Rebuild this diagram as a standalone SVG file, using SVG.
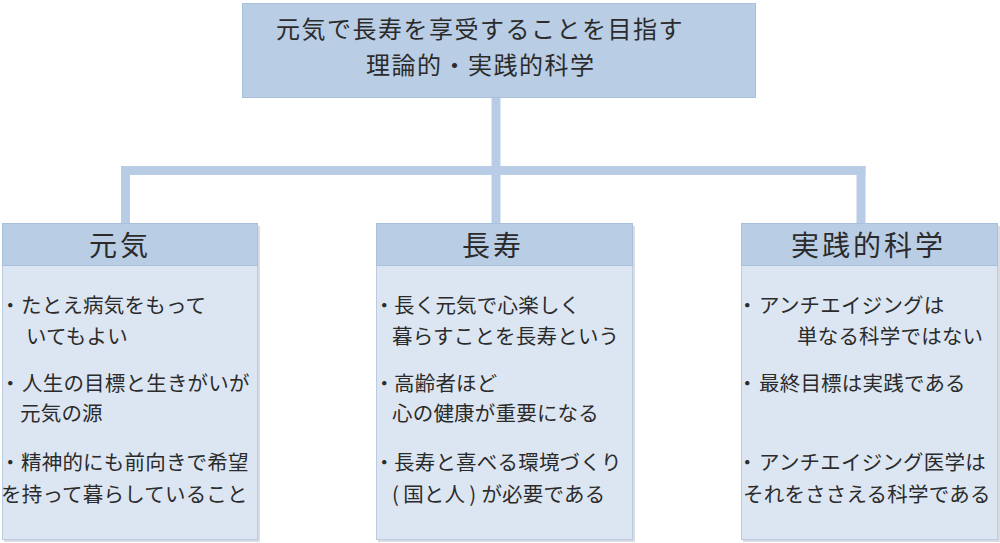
<svg xmlns="http://www.w3.org/2000/svg" width="1000" height="543" viewBox="0 0 1000 543">
  <style>
    text { font-family: "Noto Sans CJK JP", "Noto Sans CJK SC", sans-serif; fill: #2b2b2b; }
    .top { font-size: 24px; letter-spacing: 1.5px; }
    .head { font-size: 28px; letter-spacing: 3px; }
    .body { font-size: 20.5px; letter-spacing: 0.2px; }
    .conn { stroke: #b9cce5; stroke-width: 9; fill: none; }
    .hdr { fill: #b9cde5; stroke: #a9c0dd; stroke-width: 1; }
    .bdy { fill: #dce6f2; stroke: #bccbe0; stroke-width: 1; }
    .shadow { fill: #d9dde3; }
  </style>

  <g id="connectors">
    <line class="conn" x1="496" y1="98" x2="496" y2="224"/>
    <line class="conn" x1="121" y1="170.5" x2="865.5" y2="170.5"/>
    <line class="conn" x1="125.5" y1="166" x2="125.5" y2="224"/>
    <line class="conn" x1="861" y1="166" x2="861" y2="224"/>
  </g>

  <g id="root">
    <rect class="hdr" x="242.5" y="3.5" width="513" height="94"/>
    <text class="top" x="276" y="38">元気で長寿を享受することを目指す</text>
    <text class="top" x="366" y="74">理論的・実践的科学</text>
  </g>

  <g id="genki">
    <rect class="shadow" x="4" y="226" width="256" height="316"/>
    <rect class="bdy" x="2.5" y="223.5" width="255" height="316"/>
    <rect class="hdr" x="2.5" y="223.5" width="255" height="42"/>
    <text class="head" x="89" y="256">元気</text>
    <text class="body" y="312.5"><tspan x="0">・</tspan><tspan x="21">たとえ病気をもって</tspan></text>
    <text class="body" x="26" y="343.5">いてもよい</text>
    <text class="body" y="390.5"><tspan x="0">・</tspan><tspan x="22">人生の目標と生きがいが</tspan></text>
    <text class="body" x="20" y="420.5">元気の源</text>
    <text class="body" y="469.5"><tspan x="0">・</tspan><tspan x="21">精神的にも前向きで希望</tspan></text>
    <text class="body" x="1" y="501.5">を持って暮らしていること</text>
  </g>

  <g id="choju">
    <rect class="shadow" x="378" y="226" width="257" height="316"/>
    <rect class="bdy" x="376.5" y="223.5" width="256" height="316"/>
    <rect class="hdr" x="376.5" y="223.5" width="256" height="42"/>
    <text class="head" x="462" y="256">長寿</text>
    <text class="body" y="312.5"><tspan x="374">・</tspan><tspan x="394">長く元気で心楽しく</tspan></text>
    <text class="body" x="392" y="343.5">暮らすことを長寿という</text>
    <text class="body" y="390.5"><tspan x="374">・</tspan><tspan x="394">高齢者ほど</tspan></text>
    <text class="body" x="392" y="420.5">心の健康が重要になる</text>
    <text class="body" y="469.5"><tspan x="374">・</tspan><tspan x="394">長寿と喜べる環境づくり</tspan></text>
    <text class="body" x="392" y="501.5">(<tspan dx="4">国と人</tspan><tspan dx="4">)</tspan><tspan dx="5">が必要である</tspan></text>
  </g>

  <g id="jissen">
    <rect class="shadow" x="743" y="226" width="257" height="316"/>
    <rect class="bdy" x="741.5" y="223.5" width="256" height="316"/>
    <rect class="hdr" x="741.5" y="223.5" width="256" height="42"/>
    <text class="head" x="791" y="256">実践的科学</text>
    <text class="body" y="312.5"><tspan x="737">・</tspan><tspan x="759">アンチエイジングは</tspan></text>
    <text class="body" x="797" y="343.5">単なる科学ではない</text>
    <text class="body" y="390.5"><tspan x="737">・</tspan><tspan x="759">最終目標は実践である</tspan></text>
    <text class="body" y="469.5"><tspan x="737">・</tspan><tspan x="759">アンチエイジング医学は</tspan></text>
    <text class="body" x="743" y="501.5">それをささえる科学である</text>
  </g>
</svg>
